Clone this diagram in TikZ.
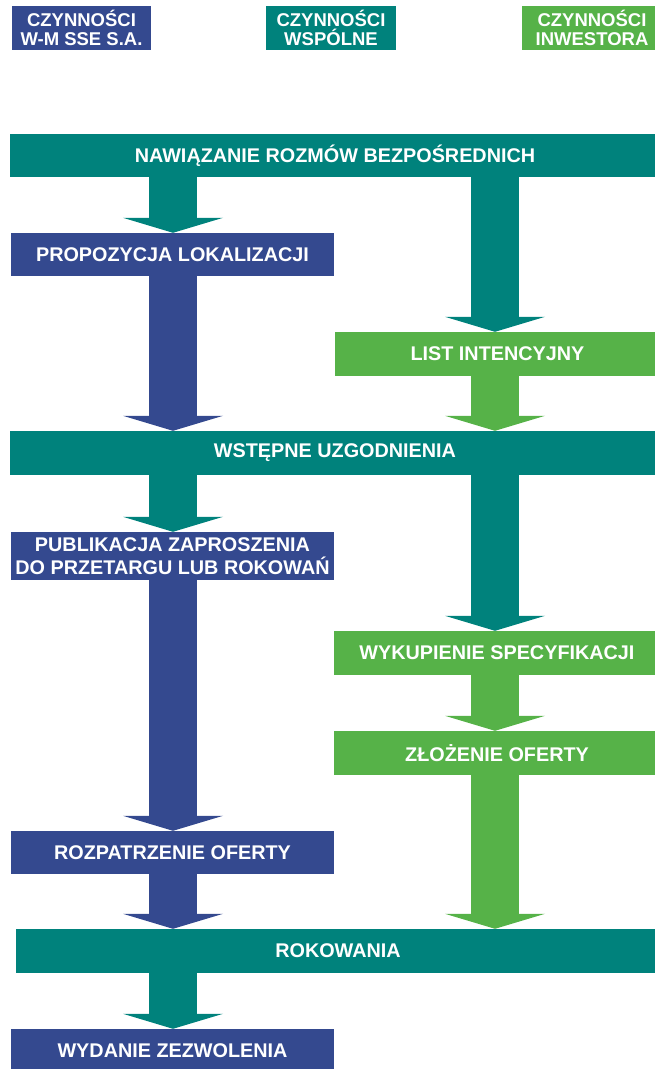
\documentclass[tikz,border=0pt]{standalone}
\usepackage{fontspec}
\setmainfont{Liberation Sans}
\usetikzlibrary{arrows.meta}

\definecolor{sseblue}{RGB}{52,73,143}
\definecolor{sseteal}{RGB}{0,130,124}
\definecolor{ssegreen}{RGB}{86,178,72}

\begin{document}
\begin{tikzpicture}[x=1pt, y=-1pt,
  flowbox/.style={rectangle, inner sep=0pt, text=white, align=center,
    font=\bfseries\fontsize{19.8}{23}\selectfont, minimum height=44pt},
  hdrbox/.style={flowbox, font=\bfseries\fontsize{18.5}{19.5}\selectfont},
  flow/.style={line width=48pt, -{Triangle[width=100pt,length=15pt,line width=0pt]}},
]

\useasboundingbox (0,0) rectangle (655,1069);

\coordinate (colL) at (173,0);
\coordinate (colR) at (495,0);

% column headers
\node[hdrbox, fill=sseblue, minimum width=139pt] (hdrW) at (81.5,28) {CZYNNOŚCI\\W-M SSE S.A.};
\node[hdrbox, fill=sseteal, minimum width=130pt] (hdrS) at (331,28) {CZYNNOŚCI\\WSPÓLNE};
\node[hdrbox, fill=ssegreen, minimum width=140pt] (hdrI) at (592,28) {CZYNNOŚCI\\INWESTORA};

\node[flowbox, fill=sseteal, minimum width=650pt, minimum height=43pt] (nawiazanie) at (335,155.5) {NAWIĄZANIE ROZMÓW BEZPOŚREDNICH};
\node[flowbox, fill=sseblue, minimum width=323pt, minimum height=43pt] (propozycja) at (172.5,254.5) {PROPOZYCJA LOKALIZACJI};
\node[flowbox, fill=ssegreen, minimum width=325pt] (list) at (497.5,354) {LIST INTENCYJNY};
\node[flowbox, fill=sseteal, minimum width=650pt] (wstepne) at (335,453) {WSTĘPNE UZGODNIENIA};
\node[flowbox, fill=sseblue, minimum width=323pt, minimum height=48pt] (publikacja) at (172.5,556) {PUBLIKACJA ZAPROSZENIA\\DO PRZETARGU LUB ROKOWAŃ};
\node[flowbox, fill=ssegreen, minimum width=326pt] (wykupienie) at (497,653) {WYKUPIENIE SPECYFIKACJI};
\node[flowbox, fill=ssegreen, minimum width=326pt] (zlozenie) at (497,753) {ZŁOŻENIE OFERTY};
\node[flowbox, fill=sseblue, minimum width=323pt, minimum height=43pt] (rozpatrzenie) at (172.5,852.5) {ROZPATRZENIE OFERTY};
\node[flowbox, fill=sseteal, minimum width=644pt] (rokowania) at (338,951) {ROKOWANIA};
\node[flowbox, fill=sseblue, minimum width=323pt] (wydanie) at (172.5,1051) {WYDANIE ZEZWOLENIA};

\draw[flow, sseteal] (nawiazanie.south -| colL) -- (propozycja.north -| colL);
\draw[flow, sseteal] (nawiazanie.south -| colR) -- (list.north -| colR);
\draw[flow, sseblue] (propozycja.south -| colL) -- (wstepne.north -| colL);
\draw[flow, ssegreen] (list.south -| colR) -- (wstepne.north -| colR);
\draw[flow, sseteal] (wstepne.south -| colL) -- (publikacja.north -| colL);
\draw[flow, sseteal] (wstepne.south -| colR) -- (wykupienie.north -| colR);
\draw[flow, sseblue] (publikacja.south -| colL) -- (rozpatrzenie.north -| colL);
\draw[flow, ssegreen] (wykupienie.south -| colR) -- (zlozenie.north -| colR);
\draw[flow, sseblue] (rozpatrzenie.south -| colL) -- (rokowania.north -| colL);
\draw[flow, ssegreen] (zlozenie.south -| colR) -- (rokowania.north -| colR);
\draw[flow, sseteal] (rokowania.south -| colL) -- (wydanie.north -| colL);

\end{tikzpicture}
\end{document}
